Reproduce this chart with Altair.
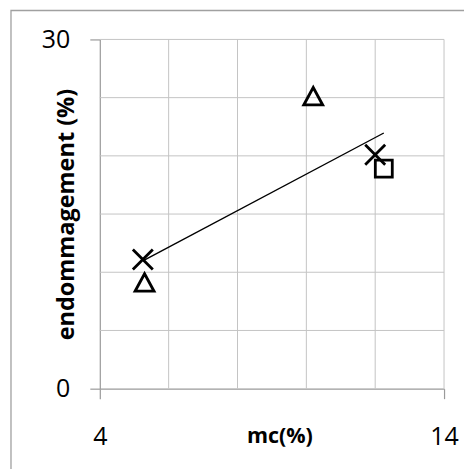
import altair as alt
import pandas as pd

# Data
x_cross = [5.25, 12.0]
y_cross = [11.1, 20.1]
x_tri = [5.3, 10.2]
y_tri = [9.1, 25.1]
x_sq = [12.25]
y_sq = [18.9]

grid_x = [6, 8, 10, 12, 14]
grid_y = [5, 10, 15, 20, 25, 30]
x_ticks = [4, 14]
y_ticks = [0, 30]

FONT = "Open Sans"
AXIS_COL = "#9a9a9a"
GRID_COL = "#c4c4c4"

pts = pd.DataFrame({
    "x": x_cross + x_tri + x_sq,
    "y": y_cross + y_tri + y_sq,
    "s": ["cross"] * len(x_cross) + ["tri"] * len(x_tri) + ["sq"] * len(x_sq),
})

xscale = alt.Scale(domain=[4, 14], nice=False, zero=False)
yscale = alt.Scale(domain=[0, 30], nice=False, zero=False)

xaxis = alt.Axis(values=x_ticks, title="mc(%)", grid=False, tickSize=10,
                 tickColor=AXIS_COL, domainColor=AXIS_COL, domainWidth=1.2, tickWidth=1.2,
                 labelFont=FONT, labelFontSize=25, labelColor="black", labelPadding=26,
                 labelFlush=False, labelOverlap=False,
                 titleFont=FONT, titleFontSize=21.5, titleFontWeight="bold", titleColor="black",
                 titleX=180, titleY=54, titleBaseline="alphabetic")
yaxis = alt.Axis(values=y_ticks, title="endommagement (%)", grid=False, tickSize=10,
                 tickColor=AXIS_COL, domainColor=AXIS_COL, domainWidth=1.2, tickWidth=1.2,
                 labelFont=FONT, labelFontSize=25, labelColor="black", labelPadding=20,
                 labelFlush=False, labelOverlap=False,
                 titleFont=FONT, titleFontSize=23.5, titleFontWeight="bold", titleColor="black",
                 titleAngle=270, titleX=-26, titleY=175, titleBaseline="alphabetic")

one = pd.DataFrame({"a": [0]})
border = alt.Chart(one).mark_rect(fill="white", fillOpacity=0, stroke="#a0a0a0",
                                  strokeWidth=1.3, clip=False).encode(
    x=alt.value(-89), x2=alt.value(430), y=alt.value(-29), y2=alt.value(480))

vgrid = alt.Chart(pd.DataFrame({"x": grid_x})).mark_rule(color=GRID_COL, strokeWidth=1).encode(
    x=alt.X("x:Q", scale=xscale, axis=xaxis),
    y=alt.datum(0), y2=alt.datum(30))
hgrid = alt.Chart(pd.DataFrame({"y": grid_y})).mark_rule(color=GRID_COL, strokeWidth=1).encode(
    y=alt.Y("y:Q", scale=yscale, axis=yaxis),
    x=alt.datum(4), x2=alt.datum(14))

trend = alt.Chart(pts).transform_regression("x", "y").mark_line(
    color="black", strokeWidth=1.4).encode(
    x=alt.X("x:Q", scale=xscale, axis=xaxis),
    y=alt.Y("y:Q", scale=yscale, axis=yaxis))

shapes = alt.Scale(domain=["cross", "tri", "sq"],
                   range=["M-1,-1L1,1M-1,1L1,-1",
                          "M0,-0.9L0.95,0.85L-0.95,0.85Z",
                          "M-0.85,-0.85L0.85,-0.85L0.85,0.85L-0.85,0.85Z"])
points = alt.Chart(pts).mark_point(filled=False, color="black", strokeWidth=2.8,
                                   size=400, opacity=1).encode(
    x=alt.X("x:Q", scale=xscale, axis=xaxis),
    y=alt.Y("y:Q", scale=yscale, axis=yaxis),
    shape=alt.Shape("s:N", scale=shapes, legend=None))

chart = alt.layer(border, vgrid, hgrid, trend, points).properties(
    width=345, height=350,
    autosize=alt.AutoSizeParams(type="none"),
    padding={"left": 92, "top": 31, "right": 20, "bottom": 80},
    background="white",
).configure_view(stroke=None)

chart.save("out.html", embed_options={"renderer": "svg", "actions": False})
